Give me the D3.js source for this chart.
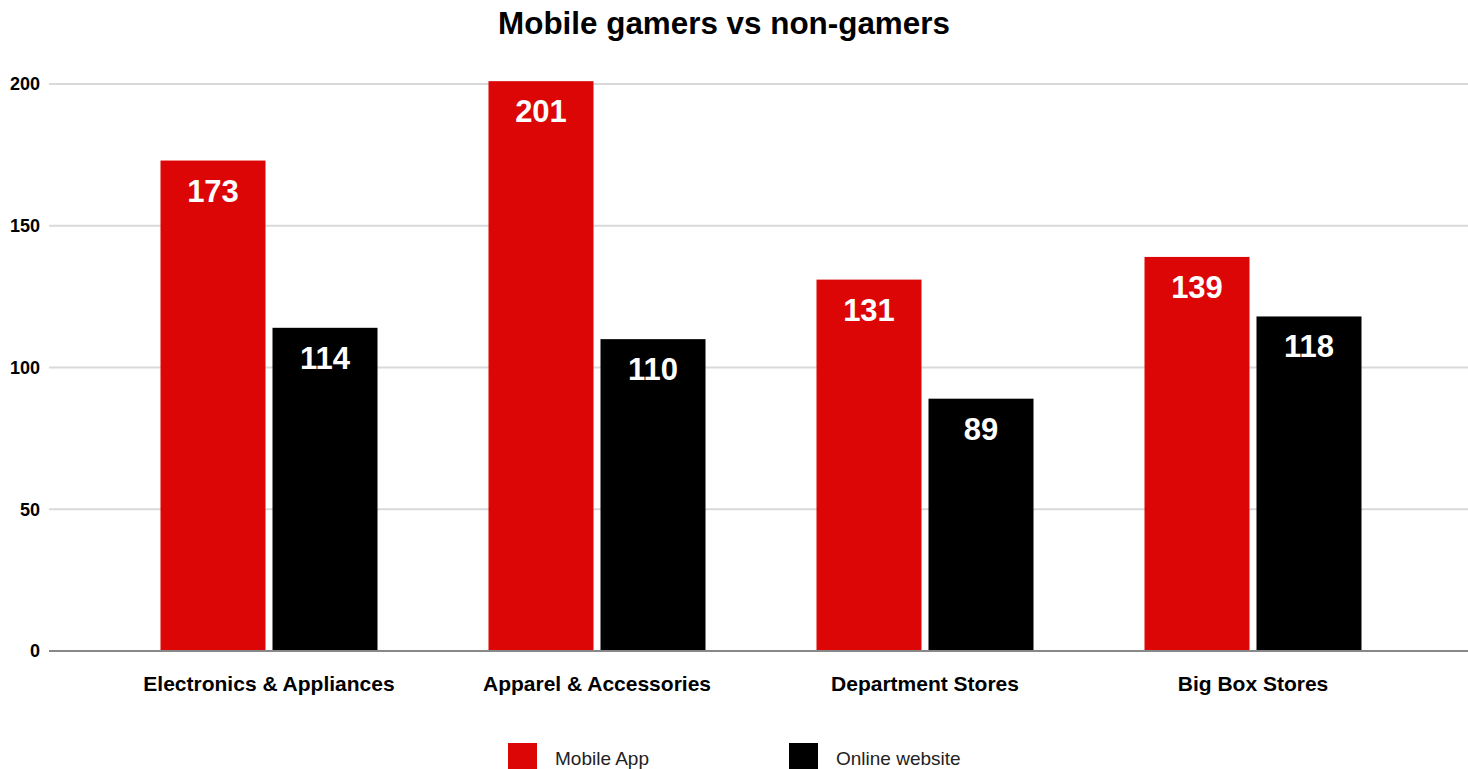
<!DOCTYPE html>
<html>
<head>
<meta charset="utf-8">
<script src="https://cdn.jsdelivr.net/npm/d3@7/dist/d3.min.js"></script>
<style>
  html, body { margin: 0; padding: 0; background: #fff; }
  svg { display: block; font-family: "Liberation Sans", Arial, Helvetica, sans-serif; }
</style>
</head>
<body>
<svg id="chart" width="1468" height="769"></svg>
<script>
// Chart data
const title = "Mobile gamers vs non-gamers";
const categories = ["Electronics & Appliances", "Apparel & Accessories", "Department Stores", "Big Box Stores"];
const seriesNames = ["Mobile App", "Online website"];
const mobileApp = [173, 201, 131, 139];
const onlineWebsite = [114, 110, 89, 118];
const yTicks = [0, 50, 100, 150, 200];
const colors = ["#dc0606", "#000000"];

const svg = d3.select("#chart");

const plot = { left: 49, right: 1468, top: 84, bottom: 651 };

// Scales
const y = d3.scaleLinear().domain([0, 200]).range([plot.bottom, plot.top]);
const x0 = d3.scaleBand().domain(categories).range([105, 1417]).padding(0);
const groupW = 217;
const x1 = d3.scaleBand().domain(seriesNames)
  .range([(x0.bandwidth() - groupW) / 2, (x0.bandwidth() + groupW) / 2])
  .paddingInner(0.0625).paddingOuter(0);

// Title
svg.append("text")
  .attr("x", 724).attr("y", 34)
  .attr("text-anchor", "middle")
  .attr("font-size", 31.4).attr("font-weight", "bold").attr("fill", "#000")
  .text(title);

// Gridlines
svg.append("g").selectAll("line")
  .data(yTicks.filter(d => d !== 0))
  .join("line")
  .attr("x1", plot.left).attr("x2", plot.right)
  .attr("y1", d => y(d)).attr("y2", d => y(d))
  .attr("stroke", "#d9d9d9").attr("stroke-width", 2);

// Y axis labels
const yAxis = d3.axisLeft(y).tickValues(yTicks).tickSize(0).tickPadding(9);
const gy = svg.append("g").attr("transform", `translate(${plot.left},0)`).call(yAxis);
gy.select(".domain").remove();
gy.selectAll("text")
  .attr("font-size", 18).attr("font-weight", "bold").attr("fill", "#000")
  .attr("font-family", "Liberation Sans, Arial, sans-serif");

// Bars
const rows = categories.map((c, i) => ({ cat: c, vals: [mobileApp[i], onlineWebsite[i]] }));
const groups = svg.append("g").selectAll("g")
  .data(rows).join("g")
  .attr("transform", d => `translate(${x0(d.cat)},0)`);

groups.selectAll("rect")
  .data(d => d.vals.map((v, j) => ({ s: seriesNames[j], v, j })))
  .join("rect")
  .attr("x", d => x1(d.s))
  .attr("y", d => y(d.v))
  .attr("width", x1.bandwidth())
  .attr("height", d => y(0) - y(d.v))
  .attr("fill", d => colors[d.j]);

groups.selectAll("text.val")
  .data(d => d.vals.map((v, j) => ({ s: seriesNames[j], v, j })))
  .join("text")
  .attr("class", "val")
  .attr("x", d => x1(d.s) + x1.bandwidth() / 2)
  .attr("y", d => y(d.v) + 41)
  .attr("text-anchor", "middle")
  .attr("font-size", 31).attr("font-weight", "bold").attr("fill", "#fff")
  .text(d => d.v);

// Baseline
svg.append("line")
  .attr("x1", plot.left).attr("x2", plot.right)
  .attr("y1", y(0)).attr("y2", y(0))
  .attr("stroke", "#888").attr("stroke-width", 2);

// Category labels
svg.append("g").selectAll("text")
  .data(categories).join("text")
  .attr("x", d => x0(d) + x0.bandwidth() / 2)
  .attr("y", 691)
  .attr("text-anchor", "middle")
  .attr("font-size", 21).attr("font-weight", "bold").attr("fill", "#000")
  .text(d => d);

// Legend
const legendX = [508, 789];
const leg = svg.append("g").selectAll("g")
  .data(seriesNames).join("g")
  .attr("transform", (d, i) => `translate(${legendX[i]},743)`);
leg.append("rect").attr("width", 29).attr("height", 29).attr("fill", (d, i) => colors[i]);
leg.append("text")
  .attr("x", 47).attr("y", 22)
  .attr("font-size", 19).attr("fill", "#222")
  .text(d => d);
</script>
</body>
</html>
